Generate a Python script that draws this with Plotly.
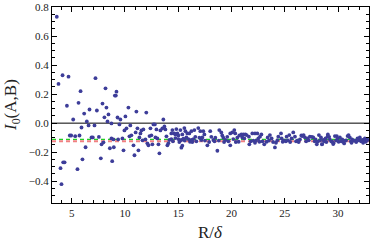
import plotly.graph_objects as go

# ---- data ----
r_near = [3.6, 3.76, 3.95, 4.04, 4.14, 4.2, 4.33, 4.55, 4.7, 4.82, 4.95, 5.14, 5.33, 5.54, 5.64,
          5.73, 5.83, 5.92, 6.01, 6.17, 6.3, 6.42, 6.58, 6.67, 6.86, 6.98, 7.14, 7.23, 7.36, 7.55,
          7.73, 7.8, 7.89, 7.98, 8.07, 8.17, 8.26, 8.36, 8.45, 8.58, 8.73, 8.73, 8.8, 8.92, 8.95]
i0_near = [0.733, 0.27, -0.31, -0.42, 0.33, -0.27, -0.27, 0.12, 0.32, -0.085, -0.085, 0.025, -0.09, -0.317, 0.14,
           -0.085, 0.22, -0.03, -0.249, 0.066, -0.166, 0.012, -0.016, 0.094, -0.098, -0.098, -0.016, 0.31, 0.087, -0.095,
           -0.242, -0.146, 0.135, -0.132, 0.04, 0.24, 0.107, 0.012, 0.06, -0.173, -0.002, -0.105, -0.262, -0.112, -0.166]

r_mid = [9.05, 9.14, 9.2, 9.3, 9.36, 9.48, 9.57, 9.76, 9.86, 9.95, 10.04, 10.14, 10.32, 10.42, 10.5,
         10.6, 10.8, 10.89, 11.0, 11.07, 11.17, 11.26, 11.35, 11.45, 11.54, 11.64, 11.73, 11.92, 12.0, 12.1,
         12.2, 12.3, 12.39, 12.48, 12.57, 12.67, 12.8, 12.86, 12.95, 13.04, 13.14, 13.23, 13.32, 13.51, 13.6,
         13.7, 13.79, 13.89, 13.98]
i0_mid = [0.19, 0.19, 0.217, 0.039, -0.112, -0.009, 0.025, -0.105, -0.187, -0.05, 0.046, -0.036, 0.107, -0.091, -0.016,
          -0.084, -0.153, -0.221, -0.064, 0.08, -0.036, -0.187, -0.098, -0.071, -0.05, -0.118, -0.043, -0.112, 0.073, -0.139,
          -0.153, -0.089, -0.036, -0.084, -0.146, -0.009, -0.009, -0.098, -0.043, -0.105, -0.146, -0.208, -0.05, -0.036, 0.025,
          -0.023, -0.043, -0.091, -0.153]

r_far1 = [14.07, 14.16, 14.35, 14.35, 14.45, 14.5, 14.63, 14.73, 14.73, 14.82, 14.92, 15.01, 15.01, 15.1, 15.2,
          15.29, 15.29, 15.38, 15.38, 15.48, 15.57, 15.6, 15.67, 15.76, 15.85, 15.95, 16.04, 16.1, 16.23, 16.23,
          16.32, 16.42, 16.51, 16.6, 16.7, 16.88, 16.98, 17.07, 17.17, 17.26, 17.35, 17.45, 17.5, 17.73, 17.9,
          18.0, 18.1, 18.29, 18.4, 18.48, 18.67, 18.8, 18.85, 19.04, 19.13, 19.23, 19.3, 19.42, 19.6, 19.7,
          19.88, 19.88, 20.07, 20.16, 20.26, 20.35, 20.4, 20.54]
i0_far1 = [-0.139, -0.116, -0.071, -0.11, -0.048, -0.125, -0.071, -0.078, -0.103, -0.041, -0.071, -0.085, -0.11, -0.13, -0.048,
           -0.116, -0.169, -0.078, -0.155, -0.107, -0.034, -0.12, -0.055, -0.098, -0.071, -0.11, -0.071, -0.128, -0.055, -0.116,
           -0.13, -0.11, -0.048, -0.094, -0.125, -0.034, -0.1, -0.055, -0.116, -0.098, -0.055, -0.078, -0.12, -0.153, -0.13,
           -0.055, -0.094, -0.116, -0.125, -0.1, -0.19, -0.12, -0.048, -0.064, -0.085, -0.1, -0.13, -0.116, -0.094, -0.125,
           -0.071, -0.153, -0.064, -0.11, -0.048, -0.071, -0.13, -0.1]

r_far2 = [20.67, 20.73, 20.92, 21.01, 21.11, 21.2, 21.3, 21.42, 21.63, 21.67, 21.8, 21.95, 22.04, 22.2, 22.2,
          22.3, 22.42, 22.51, 22.61, 22.67, 22.8, 22.9, 23.07, 23.29, 23.39, 23.5, 23.6, 23.76, 23.9, 24.07,
          24.17, 24.3, 24.39, 24.64, 24.7, 24.8, 24.95, 25.1, 25.17, 25.3, 25.42, 25.5, 25.64, 25.79, 25.95,
          26.05, 26.17, 26.3, 26.42, 26.55, 26.64, 26.76, 26.89, 27.0, 27.14, 27.25, 27.35, 27.54, 27.67, 27.8,
          27.89, 28.0, 28.07, 28.2, 28.3, 28.39, 28.48, 28.51, 28.6, 28.7, 28.82, 28.9, 29.01, 29.04, 29.16,
          29.23, 29.35, 29.45, 29.54, 29.57, 29.7, 29.8, 29.88, 29.95, 30.05, 30.17, 30.3, 30.39, 30.5, 30.57,
          30.64, 30.75, 30.89, 30.98, 31.1, 31.2, 31.26, 31.32, 31.45, 31.57, 31.7, 31.82, 31.93, 32.04, 32.15,
          32.26, 32.35, 32.45, 32.51, 32.6, 32.7, 32.76]
i0_far2 = [-0.128, -0.085, -0.078, -0.098, -0.078, -0.105, -0.078, -0.082, -0.093, -0.146, -0.125, -0.071, -0.121, -0.071, -0.135,
           -0.12, -0.071, -0.105, -0.128, -0.093, -0.078, -0.125, -0.146, -0.128, -0.098, -0.12, -0.082, -0.105, -0.13, -0.167,
           -0.135, -0.118, -0.093, -0.071, -0.105, -0.128, -0.121, -0.125, -0.093, -0.118, -0.082, -0.13, -0.105, -0.064, -0.093,
           -0.125, -0.121, -0.13, -0.112, -0.085, -0.089, -0.082, -0.098, -0.125, -0.105, -0.118, -0.093, -0.094, -0.098, -0.125,
           -0.112, -0.146, -0.128, -0.082, -0.12, -0.098, -0.146, -0.144, -0.116, -0.125, -0.105, -0.13, -0.093, -0.078, -0.094,
           -0.112, -0.125, -0.128, -0.144, -0.139, -0.089, -0.12, -0.089, -0.105, -0.128, -0.098, -0.125, -0.112, -0.13, -0.14,
           -0.121, -0.118, -0.089, -0.082, -0.098, -0.125, -0.135, -0.112, -0.12, -0.121, -0.13, -0.105, -0.118, -0.098, -0.125,
           -0.116, -0.135, -0.12, -0.105, -0.128, -0.112, -0.116]

green_level = -0.112
red_level = -0.124
x_range = [3.15, 32.9]
y_range = [-0.55, 0.80]

xs = r_near + r_mid + r_far1 + r_far2
ys = i0_near + i0_mid + i0_far1 + i0_far2

fig = go.Figure()
fig.add_trace(go.Scatter(x=x_range, y=[0, 0], mode="lines",
                         line=dict(color="black", width=1), hoverinfo="skip"))
fig.add_trace(go.Scatter(x=x_range, y=[red_level, red_level], mode="lines",
                         line=dict(color="#f08080", width=2, dash="4px,3px"), hoverinfo="skip"))
fig.add_trace(go.Scatter(x=x_range, y=[green_level, green_level], mode="lines",
                         line=dict(color="#22cc22", width=1.3, dash="4px,3px"), hoverinfo="skip"))
fig.add_trace(go.Scatter(x=xs, y=ys, mode="markers",
                         marker=dict(color="#3d3d99", size=3.8)))

tickfont = dict(family="Liberation Serif", size=11, color="#222")
axis_common = dict(showgrid=False, zeroline=False, showline=True, linecolor="black", linewidth=1,
                   mirror="allticks", ticks="inside", ticklen=5, tickcolor="black", tickwidth=1,
                   tickfont=tickfont, automargin=False)

fig.update_layout(
    width=371, height=247,
    margin=dict(l=52, r=2, t=7, b=44),
    paper_bgcolor="white", plot_bgcolor="white",
    showlegend=False,
    xaxis=dict(range=x_range, tickvals=[5, 10, 15, 20, 25, 30],
               minor=dict(dtick=1, tick0=0, ticks="inside", ticklen=3, tickcolor="black", showgrid=False),
               **axis_common),
    yaxis=dict(range=y_range, tickvals=[-0.4, -0.2, 0.0, 0.2, 0.4, 0.6, 0.8],
               ticktext=["\u22120.4", "\u22120.2", "0.0", "0.2", "0.4", "0.6", "0.8"],
               minor=dict(dtick=0.05, tick0=0, ticks="inside", ticklen=3, tickcolor="black", showgrid=False),
               **axis_common),
    annotations=[
        dict(text="R/<i>δ</i>", xref="paper", yref="paper", x=0.5, y=0, yshift=-29,
             xanchor="center", yanchor="middle", showarrow=False,
             font=dict(family="Liberation Serif", size=17, color="#222")),
        dict(text="<i>I</i><sub>0</sub>(A,B)", xref="paper", yref="paper", x=0, y=0.5, xshift=-40,
             xanchor="center", yanchor="middle", textangle=-90, showarrow=False,
             font=dict(family="Liberation Serif", size=17, color="#222")),
    ],
)

fig.write_html("out.html", config={"displayModeBar": False},
               post_script="document.body.style.margin='0';")
